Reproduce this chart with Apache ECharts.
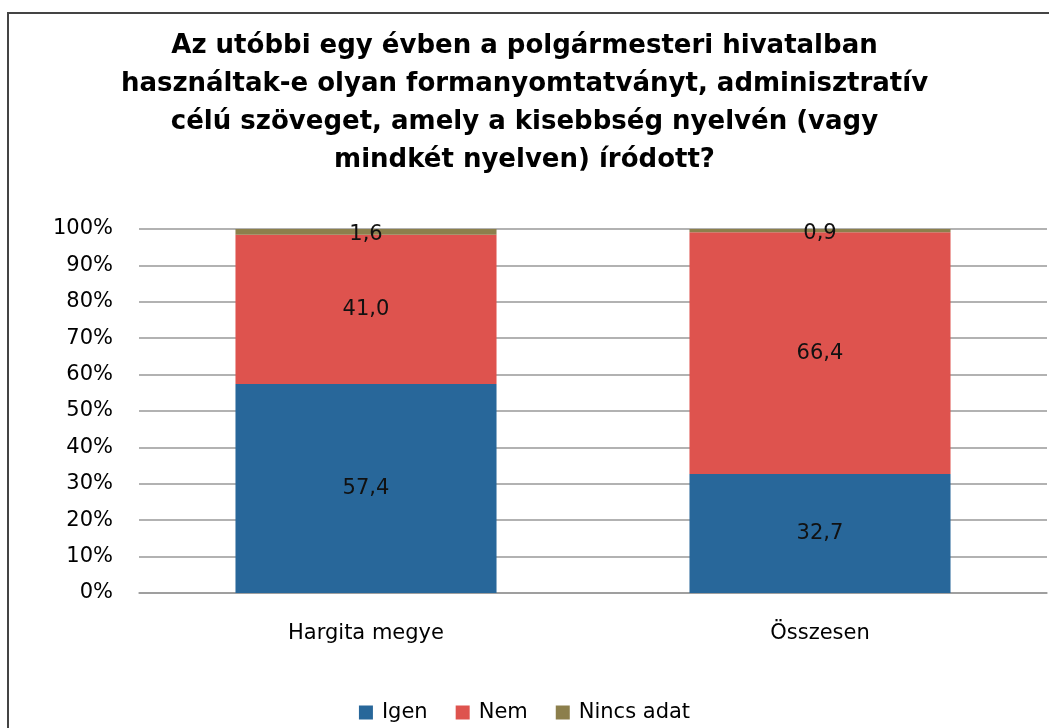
<!DOCTYPE html>
<html>
<head>
<meta charset="utf-8">
<script src="https://cdn.jsdelivr.net/npm/echarts@6/dist/echarts.min.js"></script>
<style>
html, body { margin: 0; padding: 0; background: #fff; }
#main { width: 1049px; height: 728px; }
</style>
</head>
<body>
<div id="main"></div>
<script>
var categories = ['Hargita megye', 'Összesen'];
var igen = [57.4, 32.7];
var nem = [41.0, 66.4];
var nincs = [1.6, 0.9];
var yTicks = [0, 10, 20, 30, 40, 50, 60, 70, 80, 90, 100];

var titleText = 'Az utóbbi egy évben a polgármesteri hivatalban\n' +
	'használtak-e olyan formanyomtatványt, adminisztratív\n' +
	'célú szöveget, amely a kisebbség nyelvén (vagy\n' +
	'mindkét nyelven) íródott?';

var fontFam = '"DejaVu Sans", sans-serif';

function fmt(p) {
	return p.value.toFixed(1).replace('.', ',');
}

var labelStyle = {
	show: true,
	position: 'inside',
	color: '#111',
	fontSize: 21,
	fontFamily: fontFam,
	formatter: fmt
};

var option = {
	animation: false,
	color: ['#28679A', '#DE534E', '#8C7F4C'],
	title: {
		text: titleText,
		left: 'center',
		top: 22,
		textStyle: {
			fontSize: 26,
			fontWeight: 'bold',
			fontFamily: fontFam,
			color: '#000',
			lineHeight: 38
		}
	},
	graphic: [{
		type: 'rect',
		shape: { x: 8, y: 13, width: 1200, height: 900 },
		style: { fill: 'none', stroke: '#444', lineWidth: 2 },
		silent: true
	}],
	legend: {
		bottom: 0,
		left: 'center',
		itemWidth: 14,
		itemHeight: 14,
		itemGap: 28,
		icon: 'rect',
		textStyle: { fontSize: 21, fontFamily: fontFam, color: '#000', padding: [0, 0, 0, 4] },
		data: ['Igen', 'Nem', 'Nincs adat']
	},
	grid: {
		left: 139,
		right: 2,
		top: 229,
		bottom: 135
	},
	xAxis: {
		type: 'category',
		data: categories,
		axisTick: { show: false },
		axisLine: { lineStyle: { color: '#999', width: 1.5 } },
		axisLabel: { fontSize: 21, fontFamily: fontFam, color: '#000', margin: 30 }
	},
	yAxis: {
		type: 'value',
		min: 0,
		max: 100,
		interval: 10,
		axisLine: { show: false },
		axisTick: { show: false },
		splitLine: { lineStyle: { color: '#999', width: 1.5 } },
		axisLabel: {
			fontSize: 21,
			fontFamily: fontFam,
			color: '#000',
			margin: 26,
			formatter: function (v) { return yTicks.indexOf(v) >= 0 ? v + '%' : ''; }
		}
	},
	series: [
		{ name: 'Igen', type: 'bar', stack: 'a', barWidth: '57.5%', data: igen, label: labelStyle },
		{ name: 'Nem', type: 'bar', stack: 'a', data: nem, label: labelStyle },
		{ name: 'Nincs adat', type: 'bar', stack: 'a', data: nincs, label: Object.assign({}, labelStyle, { offset: [0, 3] }) }
	]
};

var myChart = echarts.init(document.getElementById('main'));
myChart.setOption(option);
</script>
</body>
</html>
